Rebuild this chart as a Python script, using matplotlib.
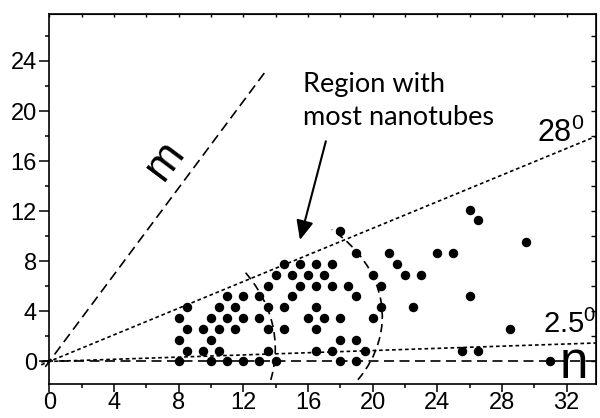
import numpy as np
import matplotlib
matplotlib.use('Agg')
import matplotlib.pyplot as plt
from matplotlib.patches import Arc, FancyArrowPatch

plt.rcParams['font.family'] = 'Liberation Sans'
plt.rcParams['mathtext.default'] = 'regular'

# nanotube positions, row by row (y = m*0.866)
tube_x = [8, 10, 11, 12, 13, 14, 18, 19, 31,
          8.5, 9.5, 10.5, 13.5, 16.5, 17.5, 19.5, 25.5, 26.5,
          8, 10, 18, 19,
          8.5, 9.5, 10.5, 11.5, 13.5, 14.5, 16.5, 28.5,
          8, 10, 11, 12, 13, 16, 17, 18, 20,
          8.5, 10.5, 11.5, 13.5, 14.5, 16.5, 20.5, 22.5,
          11, 12, 13, 15, 19, 26,
          13.5, 15.5, 16.5, 17.5, 18.5, 20.5,
          14, 15, 16, 17, 20, 22, 23,
          14.5, 15.5, 16.5, 17.5, 21.5,
          19, 21, 24, 25,
          29.5,
          18,
          26.5,
          26]
tube_y = [0, 0, 0, 0, 0, 0, 0, 0, 0,
          0.87, 0.87, 0.87, 0.87, 0.87, 0.87, 0.87, 0.87, 0.87,
          1.73, 1.73, 1.73, 1.73,
          2.6, 2.6, 2.6, 2.6, 2.6, 2.6, 2.6, 2.6,
          3.46, 3.46, 3.46, 3.46, 3.46, 3.46, 3.46, 3.46, 3.46,
          4.33, 4.33, 4.33, 4.33, 4.33, 4.33, 4.33, 4.33,
          5.2, 5.2, 5.2, 5.2, 5.2, 5.2,
          6.06, 6.06, 6.06, 6.06, 6.06, 6.06,
          6.93, 6.93, 6.93, 6.93, 6.93, 6.93, 6.93,
          7.79, 7.79, 7.79, 7.79, 7.79,
          8.66, 8.66, 8.66, 8.66,
          9.53,
          10.39,
          11.26,
          12.12]

x_ticks = [0, 4, 8, 12, 16, 20, 24, 28, 32]
y_ticks = [0, 4, 8, 12, 16, 20, 24]
x_minor = [2, 6, 10, 14, 18, 22, 26, 30]
y_minor = [2, 6, 10, 14, 18, 22, 26]
angles = [28, 2.5]   # chiral angle limits (deg)
m_end = [13.5, 23.38]

fig = plt.figure(figsize=(6, 4.18), dpi=100)
ax = fig.add_axes([0.0822, 0.0813, 0.9106, 0.8852])
xmax = 33.8
ax.set_xlim(0, xmax)
ax.set_ylim(-1.8, 27.75)

# n and m directions
ax.plot([-0.4, xmax], [0, 0], color='black', lw=1.2, dashes=(6, 3.3), clip_on=False)
ax.plot([-0.25, m_end[0]], [-0.43, m_end[1]], color='black', lw=1.2, dashes=(6, 3.3), clip_on=False)
# angle lines
for a in angles:
    t = np.tan(np.radians(a))
    ax.plot([-0.5, xmax], [-0.5 * t, xmax * t], color='black', lw=1.2,
            dashes=(2.2, 1.7), clip_on=False)

# boundaries of the region
ax.add_patch(Arc((2.98, 1.0), 22, 22, theta1=-13, theta2=35, color='black',
                 lw=1.2, ls=(0, (5, 3))))
ax.add_patch(Arc((11.0, 3.6), 19.2, 18.8, theta1=-32, theta2=47, color='black',
                 lw=1.2, ls=(0, (5, 3))))

ax.plot(tube_x, tube_y, 'o', color='black', ms=5.8, clip_on=False)

ax.text(15.69, 21.53, 'Region with', fontsize=19.5, family='Lato', ha='left', va='baseline')
ax.text(15.69, 18.88, 'most nanotubes', fontsize=19.5, family='Lato', ha='left', va='baseline')
ax.add_patch(FancyArrowPatch((17.15, 17.8), (15.46, 9.49),
                             arrowstyle='-|>,head_length=0.9,head_width=0.4',
                             mutation_scale=13, color='black', lw=1.5))

ax.text(30.14, 17.54, '28$^0$', fontsize=22, ha='left', va='baseline')
ax.text(30.55, 2.31, '2.5$^0$', fontsize=21, ha='left', va='baseline', clip_on=False)
ax.text(32.45, -1.3, 'n', fontsize=37, ha='center', va='baseline')
ax.text(7.16, 16.08, 'm', fontsize=32, ha='center', va='center', rotation=53,
        rotation_mode='anchor')

ax.set_xticks(x_ticks)
ax.set_yticks(y_ticks)
ax.set_xticks(x_minor, minor=True)
ax.set_yticks(y_minor, minor=True)
ax.tick_params(axis='y', which='major', direction='out', length=7, width=1.1, labelsize=17, pad=2)
ax.tick_params(axis='x', which='major', direction='out', length=5.5, width=1.1, labelsize=17, pad=0.5)
ax.tick_params(which='minor', direction='out', length=3, width=1.1)
for s in ax.spines.values():
    s.set_linewidth(1.2)

top = ax.secondary_xaxis('top')
top.set_xticks(x_ticks)
top.set_xticks(x_minor, minor=True)
top.tick_params(which='both', direction='in', length=2.5, width=1.0, labeltop=False)
right = ax.secondary_yaxis('right')
right.set_yticks(y_ticks)
right.set_yticks(y_minor, minor=True)
right.tick_params(which='both', direction='in', length=3.5, width=1.0, labelright=False)

fig.savefig('out.png', dpi=100)
